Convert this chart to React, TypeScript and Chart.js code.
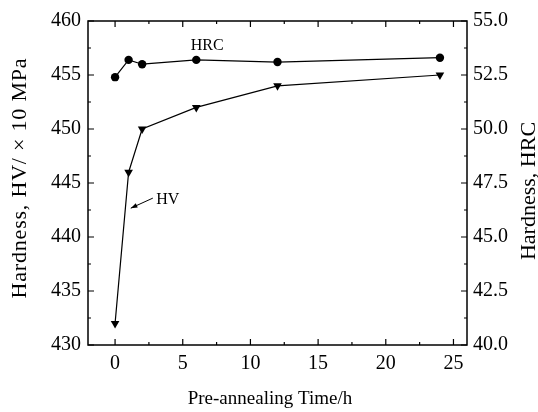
import React, { useEffect, useRef } from "react";
import { Chart, registerables } from "chart.js";
Chart.register(...registerables);

const hours = [0, 1, 2, 6, 12, 24];
const hvValues = [432, 446, 450, 452, 454, 455];
const hrcValues = [52.4, 53.2, 53.0, 53.2, 53.1, 53.3];
const xTicks = [0, 5, 10, 15, 20, 25];
const hvTicks = [430, 435, 440, 445, 450, 455, 460];
const hrcTicks = [40, 42.5, 45, 47.5, 50, 52.5, 55];
const xTitle = "Pre-annealing Time/h";
const hvTitle = "Hardness, HV/ \u00d7 10 MPa";
const hrcTitle = "Hardness, HRC";
const seriesLabels = ["HV", "HRC"];

const FONT = '"Liberation Serif", "Times New Roman", serif';

const framePlugin = {
  id: "frame",
  afterDraw(chart: any) {
    const { ctx, chartArea: a, scales } = chart;
    const x = scales.x, y = scales.y, y2 = scales.y2;
    ctx.save();
    ctx.strokeStyle = "#000";
    ctx.lineWidth = 1.5;
    ctx.strokeRect(a.left, a.top, a.right - a.left, a.bottom - a.top);
    ctx.lineWidth = 1.2;
    const mids = (vals: number[]) => vals.slice(0, -1).map((v, i) => (v + vals[i + 1]) / 2);
    const xMinor = mids(xTicks).concat([xTicks[xTicks.length - 1] + 2.5]).filter(v => v <= x.max && v >= x.min);
    ctx.beginPath();
    xTicks.forEach(v => {
      const p = x.getPixelForValue(v);
      ctx.moveTo(p, a.bottom); ctx.lineTo(p, a.bottom - 6);
      ctx.moveTo(p, a.top); ctx.lineTo(p, a.top + 6);
    });
    xMinor.forEach(v => {
      const p = x.getPixelForValue(v);
      ctx.moveTo(p, a.bottom); ctx.lineTo(p, a.bottom - 3);
      ctx.moveTo(p, a.top); ctx.lineTo(p, a.top + 3);
    });
    hvTicks.forEach(v => {
      const p = y.getPixelForValue(v);
      ctx.moveTo(a.left, p); ctx.lineTo(a.left + 6, p);
    });
    mids(hvTicks).forEach(v => {
      const p = y.getPixelForValue(v);
      ctx.moveTo(a.left, p); ctx.lineTo(a.left + 3, p);
    });
    hrcTicks.forEach(v => {
      const p = y2.getPixelForValue(v);
      ctx.moveTo(a.right, p); ctx.lineTo(a.right - 6, p);
    });
    mids(hrcTicks).forEach(v => {
      const p = y2.getPixelForValue(v);
      ctx.moveTo(a.right, p); ctx.lineTo(a.right - 3, p);
    });
    ctx.stroke();

    // titles
    ctx.fillStyle = "#000";
    ctx.textAlign = "center";
    ctx.textBaseline = "middle";
    ctx.font = `19px ${FONT}`;
    ctx.fillText(xTitle, a.left + (a.right - a.left) * 0.48, 399);
    ctx.font = `22px ${FONT}`;
    ctx.save();
    (ctx as any).letterSpacing = "0.8px";
    ctx.translate(20, (a.top + a.bottom) / 2 - 5);
    ctx.rotate(-Math.PI / 2);
    ctx.fillText(hvTitle, 0, 0);
    ctx.restore();
    ctx.save();
    ctx.translate(529, (a.top + a.bottom) / 2 + 8);
    ctx.rotate(-Math.PI / 2);
    ctx.fillText(hrcTitle, 0, 0);
    ctx.restore();

    // annotations
    ctx.font = `16px ${FONT}`;
    ctx.fillText(seriesLabels[1], x.getPixelForValue(6.8), y.getPixelForValue(457.75));
    ctx.fillText(seriesLabels[0], x.getPixelForValue(3.9), y.getPixelForValue(443.4));
    const x1 = x.getPixelForValue(2.79), y1 = y.getPixelForValue(443.6);
    const xe = x.getPixelForValue(1.16), ye = y.getPixelForValue(442.67);
    ctx.lineWidth = 1;
    ctx.beginPath();
    ctx.moveTo(x1, y1); ctx.lineTo(xe, ye); ctx.stroke();
    const ang = Math.atan2(ye - y1, xe - x1);
    ctx.beginPath();
    ctx.moveTo(xe, ye);
    ctx.lineTo(xe - 7 * Math.cos(ang - 0.35), ye - 7 * Math.sin(ang - 0.35));
    ctx.lineTo(xe - 7 * Math.cos(ang + 0.35), ye - 7 * Math.sin(ang + 0.35));
    ctx.closePath();
    ctx.fill();
    ctx.restore();
  },
};

export default function App() {
  const ref = useRef<HTMLCanvasElement>(null);
  useEffect(() => {
    if (!ref.current) return;
    const chart = new Chart(ref.current, {
      type: "line",
      data: {
        datasets: [
          {
            label: seriesLabels[0],
            data: hours.map((h, i) => ({ x: h, y: hvValues[i] })),
            yAxisID: "y",
            borderColor: "#000",
            backgroundColor: "#000",
            borderWidth: 1.2,
            pointStyle: "triangle",
            rotation: 180,
            pointRadius: 5,
            pointBorderWidth: 0,
          },
          {
            label: seriesLabels[1],
            data: hours.map((h, i) => ({ x: h, y: hrcValues[i] })),
            yAxisID: "y2",
            borderColor: "#000",
            backgroundColor: "#000",
            borderWidth: 1.2,
            pointStyle: "circle",
            pointRadius: 4.2,
            pointBorderWidth: 0,
          },
        ],
      },
      plugins: [framePlugin],
      options: {
        responsive: false,
        animation: false,
        layout: { padding: { top: 21, left: 0, right: 0, bottom: 0 } },
        plugins: { legend: { display: false }, tooltip: { enabled: false } },
        scales: {
          x: {
            type: "linear",
            min: -2,
            max: 26,
            afterBuildTicks: (s: any) => { s.ticks = xTicks.map(v => ({ value: v })); },
            afterFit: (s: any) => { s.height = 67; },
            grid: { display: false, drawTicks: false },
            border: { display: false },
            ticks: { color: "#000", padding: 7, font: { family: FONT, size: 20 }, maxRotation: 0 },
          },
          y: {
            type: "linear",
            position: "left",
            min: 430,
            max: 460,
            afterBuildTicks: (s: any) => { s.ticks = hvTicks.map(v => ({ value: v })); },
            afterFit: (s: any) => { s.width = 88; },
            grid: { display: false, drawTicks: false },
            border: { display: false },
            ticks: { color: "#000", padding: 7, font: { family: FONT, size: 20 } },
          },
          y2: {
            type: "linear",
            position: "right",
            min: 40,
            max: 55,
            afterBuildTicks: (s: any) => { s.ticks = hrcTicks.map(v => ({ value: v })); },
            afterFit: (s: any) => { s.width = 71; },
            grid: { display: false, drawTicks: false },
            border: { display: false },
            ticks: {
              color: "#000",
              padding: 6,
              font: { family: FONT, size: 20 },
              callback: (v: any) => Number(v).toFixed(1),
            },
          },
        },
      },
    } as any);
    return () => chart.destroy();
  }, []);
  return (
    <div style={{ position: "fixed", left: 0, top: 0, width: 538, height: 412, background: "#fff" }}>
      <canvas ref={ref} width={538} height={412} style={{ display: "block" }} />
    </div>
  );
}
